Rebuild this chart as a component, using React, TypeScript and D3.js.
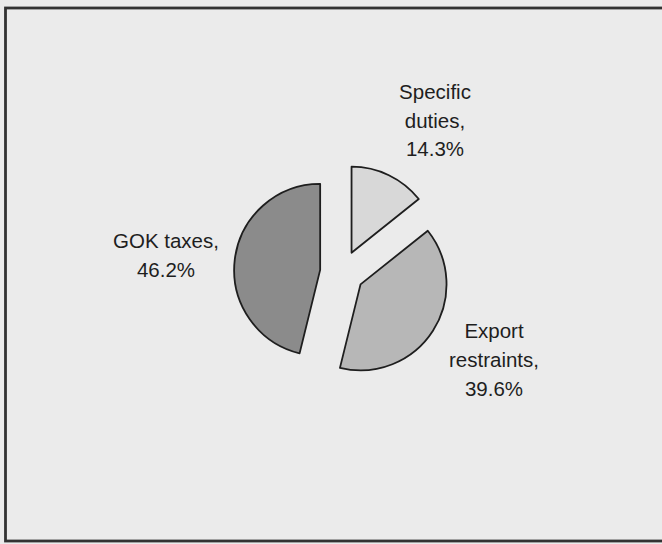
import React, { useEffect } from "react";
import * as d3 from "d3";

// ---- data ----
const categories = ["Specific duties", "Export restraints", "GOK taxes"];
const labelLines = [["Specific", "duties,"], ["Export", "restraints,"], ["GOK taxes,"]];
const values = [14.3, 39.6, 46.2];

// ---- layout / style ----
const W = 662;
const H = 544;
const CX = 342;
const CY = 272.5;
const R = 86;
const EXPLODE = 22;
const FONT = 20.5;
const LINE_H = 28.7;
const fills = ["#d8d8d8", "#b7b7b7", "#8b8b8b"];
// label centre offsets from pie centre
const labelOffsets: [number, number][] = [
  [93, -152],
  [152, 87.5],
  [-176, -17],
];

export default function App() {
  useEffect(() => {
    document.body.style.margin = "0";
    document.body.style.background = "#ebebeb";
  }, []);

  const pie = d3
    .pie<number>()
    .sort(null)
    .value((d) => d)
    .startAngle(0)
    .endAngle(2 * Math.PI);
  const arcs = pie(values);
  const arcGen = d3.arc<d3.PieArcDatum<number>>().innerRadius(0).outerRadius(R);
  const fmt = d3.format(".1f");

  return (
    <svg width={W} height={H} style={{ display: "block", background: "#ebebeb" }}>
      <rect x={0} y={0} width={W} height={H} fill="#ebebeb" />
      <rect
        x={5.5}
        y={8}
        width={W + 20}
        height={533}
        fill="none"
        stroke="#333"
        strokeWidth={2.8}
      />
      <g transform={`translate(${CX},${CY})`}>
        {arcs.map((a, i) => {
          const mid = (a.startAngle + a.endAngle) / 2;
          const dx = Math.sin(mid) * EXPLODE;
          const dy = -Math.cos(mid) * EXPLODE;
          return (
            <path
              key={categories[i]}
              d={arcGen(a) || ""}
              transform={`translate(${dx},${dy})`}
              fill={fills[i]}
              stroke="#1e1e1e"
              strokeWidth={1.8}
              strokeLinejoin="round"
            />
          );
        })}
        {arcs.map((a, i) => {
          const lines = [...labelLines[i], `${fmt(values[i])}%`];
          const [lx, ly] = labelOffsets[i];
          const first = ly - ((lines.length - 1) / 2) * LINE_H + FONT * 0.35;
          return (
            <text
              key={"l" + categories[i]}
              x={lx}
              y={first}
              textAnchor="middle"
              fontFamily="'Liberation Sans', Arial, sans-serif"
              fontSize={FONT}
              fill="#1e1e1e"
            >
              {lines.map((t, j) => (
                <tspan key={j} x={lx} y={first + j * LINE_H}>
                  {t}
                </tspan>
              ))}
            </text>
          );
        })}
      </g>
    </svg>
  );
}
